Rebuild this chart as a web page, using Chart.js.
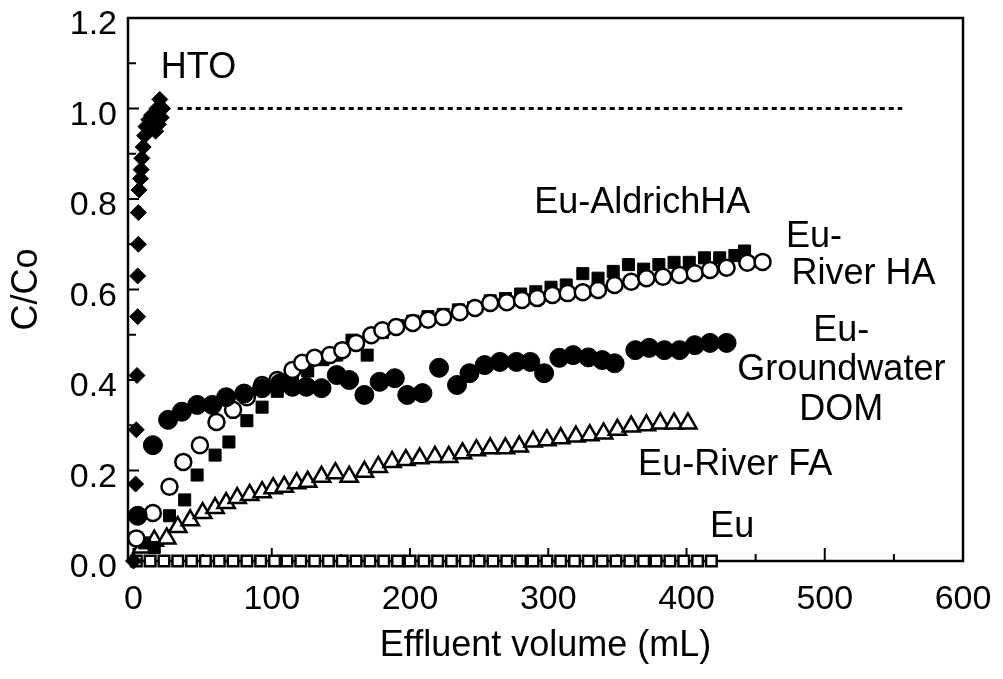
<!DOCTYPE html>
<html>
<head>
<meta charset="utf-8">
<title>Breakthrough curves</title>
<script src="https://cdn.jsdelivr.net/npm/chart.js@4.4.0/dist/chart.umd.min.js"></script>
<style>
    html, body { margin: 0; padding: 0; background: #fff; }
    #wrap { width: 1003px; height: 679px; }
</style>
</head>
<body>
<div id="wrap"><canvas id="breakthroughChart"></canvas></div>
<script>
// Axis ticks
const xTicks = [0, 100, 200, 300, 400, 500, 600];
const xMinorTicks = [50, 150, 250, 350, 450, 550];
const yTicks = [0, 0.2, 0.4, 0.6, 0.8, 1.0, 1.2];
const yMinorTicks = [0.1, 0.3, 0.5, 0.7, 0.9, 1.1];

// HTO tracer (filled diamonds)
const volHTO = [0, 1.5, 2, 2.5, 3, 3, 3.5, 3.5, 4, 5, 5.5, 6, 7, 8, 9, 11, 13, 15, 17, 19, 21, 20, 18, 16];
const cHTO = [0.00, 0.17, 0.29, 0.41, 0.54, 0.63, 0.70, 0.77, 0.82, 0.845, 0.865, 0.89, 0.915, 0.94, 0.96, 0.975, 0.985, 0.99, 1.00, 1.02, 1.00, 0.98, 0.965, 0.95];

// HTO plateau (dotted)
const volPlateau = [32, 556];
const cPlateau = [1.0, 1.0];

// Eu-AldrichHA (filled squares)
const volAldrich = [8, 15, 26, 37, 46, 59, 69, 82, 93, 104, 115, 126, 137, 147, 158, 169, 180, 191, 202, 213, 224, 235, 246, 258, 269, 280, 291, 302, 313, 325, 336, 347, 358, 369, 380, 391, 402, 413, 424, 435, 442];
const cAldrich = [0.04, 0.03, 0.10, 0.135, 0.19, 0.234, 0.263, 0.31, 0.34, 0.375, 0.40, 0.42, 0.445, 0.455, 0.488, 0.455, 0.505, 0.52, 0.53, 0.54, 0.545, 0.555, 0.56, 0.575, 0.58, 0.59, 0.595, 0.605, 0.61, 0.635, 0.625, 0.64, 0.655, 0.645, 0.655, 0.66, 0.66, 0.67, 0.67, 0.675, 0.685];

// Eu-River HA (open circles)
const volRiverHA = [2, 14, 26, 36, 48, 60, 72, 82, 93, 104, 115, 122, 131, 142, 151, 161, 172, 180, 190, 202, 213, 224, 236, 247, 258, 270, 281, 292, 303, 314, 325, 336, 348, 360, 371, 383, 395, 406, 417, 429, 444, 455];
const cRiverHA = [0.05, 0.106, 0.164, 0.219, 0.256, 0.307, 0.334, 0.362, 0.389, 0.40, 0.422, 0.438, 0.449, 0.455, 0.466, 0.482, 0.499, 0.51, 0.517, 0.526, 0.533, 0.539, 0.55, 0.559, 0.57, 0.572, 0.577, 0.581, 0.588, 0.592, 0.594, 0.599, 0.61, 0.617, 0.625, 0.628, 0.632, 0.636, 0.643, 0.648, 0.659, 0.661];

// Eu-Groundwater DOM (filled circles)
const volGroundwater = [3, 14, 25, 35, 46, 57, 67, 80, 93, 106, 115, 125, 136, 147, 156, 167, 178, 189, 198, 209, 221, 234, 243, 254, 265, 277, 287, 297, 308, 318, 329, 339, 348, 363, 373, 384, 395, 406, 417, 429];
const cGroundwater = [0.10, 0.256, 0.312, 0.33, 0.345, 0.345, 0.362, 0.37, 0.382, 0.393, 0.385, 0.385, 0.382, 0.411, 0.40, 0.367, 0.396, 0.404, 0.367, 0.371, 0.427, 0.389, 0.415, 0.433, 0.44, 0.44, 0.44, 0.415, 0.449, 0.455, 0.45, 0.444, 0.437, 0.466, 0.471, 0.466, 0.466, 0.477, 0.482, 0.482];

// Eu-River FA (open triangles)
const volRiverFA = [6, 15, 24, 32, 41, 50, 59, 67, 75, 84, 93, 101, 109, 118, 126, 136, 146, 156, 167, 177, 187, 197, 207, 218, 228, 238, 248, 258, 269, 279, 289, 299, 309, 320, 330, 340, 350, 360, 371, 381, 391, 401];
const cRiverFA = [0.03, 0.045, 0.05, 0.075, 0.09, 0.106, 0.117, 0.128, 0.139, 0.146, 0.152, 0.161, 0.164, 0.172, 0.175, 0.186, 0.194, 0.186, 0.197, 0.208, 0.219, 0.223, 0.227, 0.23, 0.23, 0.238, 0.245, 0.249, 0.249, 0.253, 0.264, 0.267, 0.271, 0.275, 0.278, 0.282, 0.29, 0.297, 0.30, 0.304, 0.304, 0.304];

// Eu alone (open squares)
const volEu = [2, 12, 22, 32, 42, 52, 62, 72, 82, 92, 102, 111, 121, 131, 141, 151, 161, 171, 181, 191, 200, 210, 220, 230, 240, 250, 260, 270, 280, 289, 299, 309, 319, 329, 339, 349, 359, 369, 378, 388, 398, 408, 418];
const cEu = [0, 0, 0, 0, 0, 0, 0, 0, 0, 0, 0, 0, 0, 0, 0, 0, 0, 0, 0, 0, 0, 0, 0, 0, 0, 0, 0, 0, 0, 0, 0, 0, 0, 0, 0, 0, 0, 0, 0, 0, 0, 0, 0];

// Curve labels: [text, volume, C/Co, align]
const curveLabels = [
    ['HTO', 47, 1.089, 'center'],
    ['Eu-AldrichHA', 368, 0.791, 'center'],
    ['Eu-', 472, 0.716, 'left'],
    ['River HA', 476, 0.634, 'left'],
    ['Eu-', 512, 0.508, 'center'],
    ['Groundwater', 512, 0.422, 'center'],
    ['DOM', 512, 0.334, 'center'],
    ['Eu-River FA', 365, 0.212, 'left'],
    ['Eu', 433, 0.075, 'center']
];

const FONT = "'Liberation Sans', Arial, Helvetica, sans-serif";
const pts = (xs, ys) => xs.map((x, i) => ({ x: x, y: ys[i] }));

// Box around the plot with inward tick marks
const axesFrame = {
    id: 'axesFrame',
    beforeDatasetsDraw(chart) {
        const { ctx, chartArea: a, scales: { x, y } } = chart;
        ctx.save();
        ctx.strokeStyle = '#000';
        ctx.lineWidth = 2.5;
        ctx.strokeRect(a.left, a.top, a.right - a.left, a.bottom - a.top);
        ctx.lineWidth = 2;
        ctx.beginPath();
        yTicks.forEach(v => { const p = y.getPixelForValue(v); ctx.moveTo(a.left, p); ctx.lineTo(a.left + 11, p); });
        yMinorTicks.forEach(v => { const p = y.getPixelForValue(v); ctx.moveTo(a.left, p); ctx.lineTo(a.left + 8, p); });
        xTicks.forEach(v => { const p = x.getPixelForValue(v); ctx.moveTo(p, a.bottom); ctx.lineTo(p, a.bottom - 13); });
        xMinorTicks.forEach(v => { const p = x.getPixelForValue(v); ctx.moveTo(p, a.bottom); ctx.lineTo(p, a.bottom - 7); });
        ctx.stroke();
        ctx.restore();
    }
};

// Text next to each curve
const curveText = {
    id: 'curveText',
    afterDatasetsDraw(chart) {
        const { ctx, scales: { x, y } } = chart;
        ctx.save();
        ctx.fillStyle = '#000';
        ctx.font = '36px ' + FONT;
        ctx.textBaseline = 'middle';
        curveLabels.forEach(([t, vx, vy, align]) => {
            ctx.textAlign = align;
            ctx.fillText(t, x.getPixelForValue(vx), y.getPixelForValue(vy));
        });
        ctx.restore();
    }
};

const ctx = document.getElementById('breakthroughChart').getContext('2d');
new Chart(ctx, {
    type: 'scatter',
    data: {
        datasets: [
            {
                label: 'HTO plateau',
                data: pts(volPlateau, cPlateau),
                showLine: true,
                borderColor: '#000',
                borderWidth: 3,
                borderDash: [5, 4],
                pointRadius: 0,
                order: 7
            },
            {
                label: 'Eu',
                data: pts(volEu, cEu),
                pointStyle: 'rect',
                pointRadius: 7.5,
                borderColor: '#000',
                backgroundColor: '#fff',
                borderWidth: 2.5,
                order: 6
            },
            {
                label: 'Eu-River FA',
                data: pts(volRiverFA, cRiverFA),
                pointStyle: 'triangle',
                pointRadius: 10,
                borderColor: '#000',
                backgroundColor: '#fff',
                borderWidth: 2.5,
                order: 5
            },
            {
                label: 'Eu-AldrichHA',
                data: pts(volAldrich, cAldrich),
                pointStyle: 'rect',
                pointRadius: 8.5,
                borderColor: '#000',
                backgroundColor: '#000',
                borderWidth: 1,
                order: 4
            },
            {
                label: 'Eu-River HA',
                data: pts(volRiverHA, cRiverHA),
                pointStyle: 'circle',
                pointRadius: 8,
                borderColor: '#000',
                backgroundColor: '#fff',
                borderWidth: 2.5,
                order: 3
            },
            {
                label: 'Eu-Groundwater DOM',
                data: pts(volGroundwater, cGroundwater),
                pointStyle: 'circle',
                pointRadius: 9.5,
                borderColor: '#000',
                backgroundColor: '#000',
                borderWidth: 1,
                order: 2
            },
            {
                label: 'HTO',
                data: pts(volHTO, cHTO),
                pointStyle: 'rectRot',
                pointRadius: 8,
                borderColor: '#000',
                backgroundColor: '#000',
                borderWidth: 1,
                order: 1
            }
        ]
    },
    options: {
        responsive: true,
        maintainAspectRatio: false,
        animation: false,
        clip: false,
        layout: { padding: { left: 0, top: 18, right: 40, bottom: 0 } },
        plugins: {
            legend: { display: false },
            tooltip: { enabled: false }
        },
        scales: {
            x: {
                type: 'linear',
                min: -4,
                max: 600,
                grid: { display: false, drawTicks: false },
                border: { display: false },
                afterBuildTicks: s => { s.ticks = xTicks.map(v => ({ value: v })); },
                afterFit: s => { s.height = 118; s.paddingLeft = 0; s.paddingRight = 0; },
                ticks: {
                    color: '#000',
                    padding: 18,
                    maxRotation: 0,
                    font: { family: FONT, size: 34 },
                    callback: v => String(v)
                },
                title: {
                    display: true,
                    text: 'Effluent volume (mL)',
                    color: '#000',
                    font: { family: FONT, size: 36 },
                    padding: { top: 0, bottom: 11 }
                }
            },
            y: {
                type: 'linear',
                min: 0,
                max: 1.2,
                grid: { display: false, drawTicks: false },
                border: { display: false },
                afterBuildTicks: s => { s.ticks = yTicks.map(v => ({ value: v })); },
                afterFit: s => { s.width = 128; s.paddingTop = 0; s.paddingBottom = 0; },
                ticks: {
                    color: '#000',
                    padding: 11,
                    labelOffset: 7,
                    font: { family: FONT, size: 34 },
                    callback: v => Number(v).toFixed(1)
                },
                title: {
                    display: true,
                    text: 'C/Co',
                    color: '#000',
                    font: { family: FONT, size: 36 },
                    padding: { top: 5, bottom: 0 }
                }
            }
        }
    },
    plugins: [axesFrame, curveText]
});
</script>
</body>
</html>
